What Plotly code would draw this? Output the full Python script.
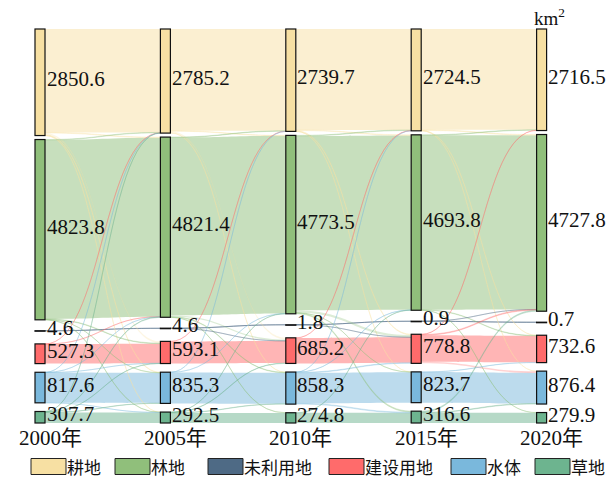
import plotly.graph_objects as go

# ---------------- data ----------------
years = ["2000年", "2005年", "2010年", "2015年", "2020年"]
categories = ["耕地", "林地", "未利用地", "建设用地", "水体", "草地"]
colors = ["#F7E0A3", "#90BF7B", "#4E6A85", "#FF6B6B", "#7AB8DC", "#6DB48F"]

area_2000 = [2850.6, 4823.8, 4.6, 527.3, 817.6, 307.7]
area_2005 = [2785.2, 4821.4, 4.6, 593.1, 835.3, 292.5]
area_2010 = [2739.7, 4773.5, 1.8, 685.2, 858.3, 274.8]
area_2015 = [2724.5, 4693.8, 0.9, 778.8, 823.7, 316.6]
area_2020 = [2716.5, 4727.8, 0.7, 732.6, 876.4, 279.9]

# transfers: (from category, to category, km2)
flows_2000_2005 = [
    (0, 0, 2766.6), (1, 1, 4786.8), (2, 2, 4.6), (3, 3, 523.3), (4, 4, 809.3), (5, 5, 281.8),
    (0, 1, 18), (0, 3, 48), (0, 4, 14), (0, 5, 4),
    (1, 0, 12), (1, 3, 14), (1, 4, 5), (1, 5, 6),
    (3, 0, 2), (3, 1, 2),
    (4, 0, 2.6), (4, 1, 3), (4, 3, 2), (4, 5, 0.7),
    (5, 0, 2), (5, 1, 11.6), (5, 3, 5.8), (5, 4, 6.5),
]
flows_2005_2010 = [
    (0, 0, 2722.7), (1, 1, 4753.5), (2, 2, 1.8), (3, 3, 590.1), (4, 4, 830.3), (5, 5, 269.8),
    (0, 1, 12), (0, 3, 43), (0, 4, 7.5),
    (1, 0, 12), (1, 3, 38), (1, 4, 12.9), (1, 5, 5),
    (2, 3, 2.8),
    (3, 0, 3),
    (4, 0, 2), (4, 1, 3),
    (5, 1, 5), (5, 3, 10), (5, 4, 7.7),
]
flows_2010_2015 = [
    (0, 0, 2702.5), (1, 1, 4668.8), (2, 2, 0.9), (3, 3, 681.2), (4, 4, 816.7), (5, 5, 268.8),
    (0, 1, 15), (0, 3, 19.2), (0, 4, 3),
    (1, 0, 15), (1, 3, 60), (1, 4, 4), (1, 5, 25.7),
    (2, 3, 0.9),
    (3, 0, 4),
    (4, 0, 3), (4, 1, 4), (4, 3, 15), (4, 5, 19.6),
    (5, 1, 6),
]
flows_2015_2020 = [
    (0, 0, 2696.5), (1, 1, 4663.8), (2, 2, 0.7), (3, 3, 709.6), (4, 4, 818.7), (5, 5, 275.9),
    (0, 1, 17), (0, 3, 6), (0, 4, 5),
    (1, 0, 14), (1, 3, 12), (1, 5, 4),
    (2, 1, 0.2),
    (3, 0, 6), (3, 1, 21), (3, 4, 42.2),
    (4, 3, 5),
    (5, 1, 26), (5, 4, 14.7),
]
unit_label = "km<sup>2</sup>"

# ---------------- layout constants (page pixels) ----------------
FIG_W, FIG_H = 606, 479
SK_TOP, SK_BOTTOM = 29, 423
SK_H = SK_BOTTOM - SK_TOP
PAD = 9
THICK = 10
COL_X0, COL_DX = 40, 125.4
GAP_CF, GAP_FU, GAP_UC = 4, 11, 13
SERIF = "Liberation Serif, Times New Roman, Noto Sans CJK SC, serif"
CJK = "Noto Sans CJK SC, sans-serif"
LEGEND_X = [31, 115, 208, 329, 451, 535]
LEGEND_SW = 35
LEGEND_Y0, LEGEND_Y1 = 458.5, 474.5

areas = [area_2000, area_2005, area_2010, area_2015, area_2020]
periods = [flows_2000_2005, flows_2005_2010, flows_2010_2015, flows_2015_2020]
n_cat, n_year = len(categories), len(years)


def px(x):
    return x / FIG_W


def py(y):
    return 1 - y / FIG_H


def rgba(hex_color, a):
    h = hex_color.lstrip("#")
    return "rgba(%d,%d,%d,%s)" % (int(h[0:2], 16), int(h[2:4], 16), int(h[4:6], 16), a)


def nid(y, c):
    return y * n_cat + c


sources, targets, values, link_colors = [], [], [], []
node_in = [[0.0] * n_cat for _ in range(n_year)]
node_out = [[0.0] * n_cat for _ in range(n_year)]
for p, flows in enumerate(periods):
    for s, t, v in flows:
        sources.append(nid(p, s))
        targets.append(nid(p + 1, t))
        values.append(v)
        link_colors.append(rgba(colors[s], 0.5 if s == t else 0.3))
        node_out[p][s] += v
        node_in[p + 1][t] += v

node_val = [[max(node_in[y][c], node_out[y][c]) for c in range(n_cat)] for y in range(n_year)]
ky = min((SK_H - (n_cat - 1) * PAD) / sum(col) for col in node_val)

node_x, node_y, node_colors = [], [], []
annotations = []
for y in range(n_year):
    h = [node_val[y][c] * ky for c in range(n_cat)]
    top = [0.0] * n_cat
    top[1] = top[0] + h[0] + GAP_CF
    top[2] = top[1] + h[1] + GAP_FU - h[2] / 2
    top[3] = top[2] + h[2] + GAP_UC
    rest = (SK_H - (top[3] + h[3]) - h[4] - h[5]) / 2
    top[4] = top[3] + h[3] + rest
    top[5] = top[4] + h[4] + rest
    cx = COL_X0 + y * COL_DX
    for c in range(n_cat):
        cy = top[c] + h[c] / 2
        node_x.append(px(cx))
        node_y.append(cy / SK_H)
        node_colors.append(colors[c])
        annotations.append(dict(
            x=px(cx + THICK / 2 + 0.5), y=py(SK_TOP + cy),
            xref="paper", yref="paper", xanchor="left", yanchor="middle",
            text="%.1f" % areas[y][c], showarrow=False, xshift=-1, yshift=3,
            font=dict(family=SERIF, size=21, color="#111"),
        ))
    annotations.append(dict(
        x=px(cx + 10), y=py(438), xref="paper", yref="paper",
        xanchor="center", yanchor="middle", text=years[y], showarrow=False,
        font=dict(family=SERIF, size=21, color="#111"),
    ))

annotations.append(dict(
    x=px(549), y=py(17), xref="paper", yref="paper",
    xanchor="center", yanchor="middle", text=unit_label, showarrow=False,
    font=dict(family=SERIF, size=19, color="#111"),
))

shapes = []
for i, name in enumerate(categories):
    x0 = LEGEND_X[i]
    shapes.append(dict(
        type="rect", xref="paper", yref="paper",
        x0=px(x0), x1=px(x0 + LEGEND_SW),
        y0=py(LEGEND_Y1), y1=py(LEGEND_Y0),
        fillcolor=colors[i], line=dict(color="#222", width=1),
    ))
    annotations.append(dict(
        x=px(x0 + LEGEND_SW), y=py((LEGEND_Y0 + LEGEND_Y1) / 2),
        xref="paper", yref="paper", xanchor="left", yanchor="middle",
        text=name, showarrow=False, xshift=-1,
        font=dict(family=CJK, size=17, color="#111"),
    ))

fig = go.Figure(go.Sankey(
    arrangement="fixed",
    domain=dict(x=[0, 1], y=[py(SK_BOTTOM), py(SK_TOP)]),
    node=dict(
        label=[""] * len(node_x), x=node_x, y=node_y, pad=PAD, thickness=THICK,
        color=node_colors, line=dict(color="#111", width=1.2), hoverinfo="none",
    ),
    link=dict(source=sources, target=targets, value=values, color=link_colors, hoverinfo="none"),
))
fig.update_layout(
    width=FIG_W, height=FIG_H, margin=dict(l=0, r=0, t=0, b=0),
    paper_bgcolor="white", plot_bgcolor="white", showlegend=False,
    annotations=annotations, shapes=shapes,
)
fig.write_html(
    "out.html",
    config={"displayModeBar": False},
    post_script="document.body.style.margin='0';document.documentElement.style.overflow='hidden';",
)
